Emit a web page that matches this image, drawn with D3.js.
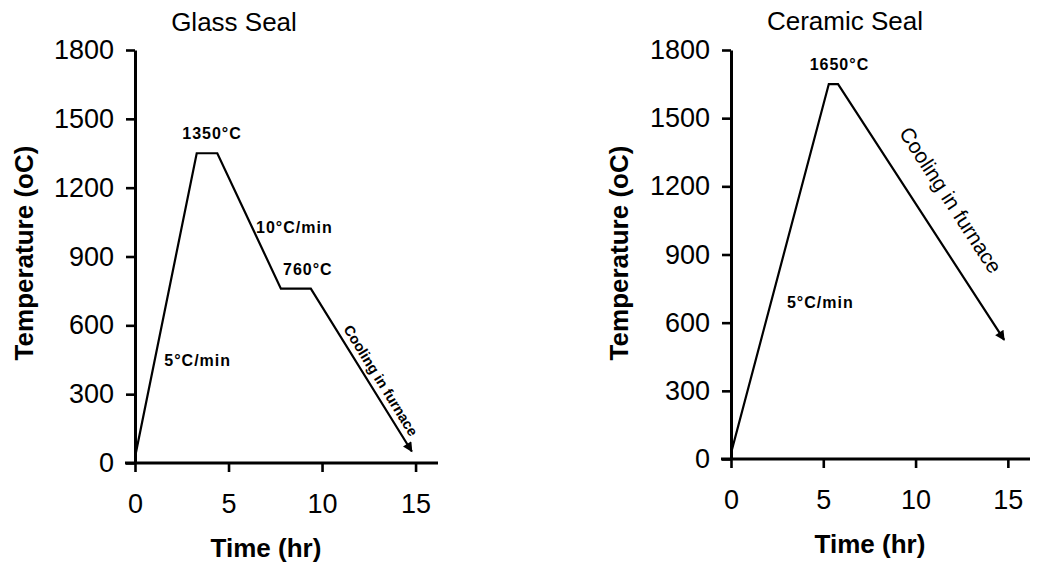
<!DOCTYPE html>
<html>
<head>
<meta charset="utf-8">
<script src="https://cdn.jsdelivr.net/npm/d3@7"></script>
<style>
  html, body { margin: 0; padding: 0; background: #fff; }
  svg { display: block; font-family: "Liberation Sans", Arial, Helvetica, sans-serif; }
</style>
</head>
<body>
<script>
// Firing schedules for the two seal types
const panelTitles = ["Glass Seal", "Ceramic Seal"];
const xTicks = [0, 5, 10, 15];
const yTicks = [0, 300, 600, 900, 1200, 1500, 1800];

// Glass seal: heat, dwell at 1350 °C, cool to 760 °C, dwell, furnace cool
const glassTime = [0, 3.3, 4.4, 7.8, 9.4, 14.8];
const glassTemp = [25, 1350, 1350, 760, 760, 50];

// Ceramic seal: heat, dwell at 1650 °C, furnace cool
const ceramicTime = [0, 5.3, 5.8, 14.8];
const ceramicTemp = [25, 1650, 1650, 524];

// Dwell labels (index of the first point of each dwell)
const glassDwells = [{ i: 1, text: "1350°C", dx: 5 }, { i: 3, text: "760°C", dx: 12 }];
const ceramicDwells = [{ i: 1, text: "1650°C", dx: 6 }];

// Rate labels, anchored in time / temperature space
const glassRates = [{ t: 3.35, T: 423, text: "5°C/min" }, { t: 8.52, T: 1003, text: "10°C/min" }];
const ceramicRates = [{ t: 4.84, T: 665, text: "5°C/min" }];

const coolingText = "Cooling in furnace";

const W = 1037, H = 568;
const svg = d3.select("body").append("svg").attr("width", W).attr("height", H);

svg.append("defs").append("marker")
  .attr("id", "arrow")
  .attr("viewBox", "0 0 10 10")
  .attr("refX", 9).attr("refY", 5)
  .attr("markerWidth", 5).attr("markerHeight", 4.5)
  .attr("markerUnits", "strokeWidth")
  .attr("orient", "auto")
  .append("path").attr("d", "M0,0 L10,5 L0,10 Z").attr("fill", "#000");

const panels = [
  {
    title: panelTitles[0], time: glassTime, temp: glassTemp, dwells: glassDwells, rates: glassRates,
    xRange: [135, 438], yRange: [463, 50],
    titleX: 234, titleY: 31, yLabX: 33, xLabX: 266, xLabY: 557,
    cool: { frac: 0.6, off: 6, size: 14.5, weight: "bold" }
  },
  {
    title: panelTitles[1], time: ceramicTime, temp: ceramicTemp, dwells: ceramicDwells, rates: ceramicRates,
    xRange: [731, 1030], yRange: [459, 50],
    titleX: 845, titleY: 30, yLabX: 628, xLabX: 870, xLabY: 553,
    cool: { frac: 0.52, off: 24, size: 21, weight: "normal" }
  }
];

panels.forEach(p => {
  const x = d3.scaleLinear().domain([0, 16.2]).range(p.xRange);
  const y = d3.scaleLinear().domain([0, 1800]).range(p.yRange);
  const g = svg.append("g");

  // Axes
  const yAxis = d3.axisLeft(y).tickValues(yTicks).tickFormat(d3.format("d"))
    .tickSize(9).tickSizeOuter(0).tickPadding(12);
  const xAxis = d3.axisBottom(x).tickValues(xTicks).tickFormat(d3.format("d"))
    .tickSize(9).tickSizeOuter(0).tickPadding(22);

  const gx = g.append("g").attr("transform", `translate(0,${y(0)})`).call(xAxis);
  const gy = g.append("g").attr("transform", `translate(${x(0)},0)`).call(yAxis);
  [gx, gy].forEach(a => {
    a.select(".domain").attr("stroke", "#000").attr("stroke-width", 3);
    a.selectAll(".tick line").attr("stroke", "#000").attr("stroke-width", 2.6);
    a.selectAll(".tick text").attr("fill", "#000").attr("font-size", 27)
      .attr("font-family", "'Liberation Sans', Arial, sans-serif");
  });
  // extend the time axis a little past the temperature axis, as drawn
  gx.select(".domain").attr("d", `M${x(0) - 10},0H${p.xRange[1]}`);

  // Title and axis labels
  g.append("text").attr("x", p.titleX).attr("y", p.titleY).attr("text-anchor", "middle")
    .attr("font-size", 26).attr("fill", "#000").text(p.title);
  g.append("text").attr("transform", `translate(${p.yLabX},253) rotate(-90)`)
    .attr("text-anchor", "middle").attr("font-size", 26).attr("font-weight", "bold")
    .attr("fill", "#000").text("Temperature (oC)");
  g.append("text").attr("x", p.xLabX).attr("y", p.xLabY).attr("text-anchor", "middle")
    .attr("font-size", 26).attr("font-weight", "bold").attr("fill", "#000").text("Time (hr)");

  // Temperature profile
  const pts = p.time.map((t, i) => [t, p.temp[i]]);
  const line = d3.line().x(d => x(d[0])).y(d => y(d[1]));
  g.append("path").datum(pts).attr("d", line)
    .attr("fill", "none").attr("stroke", "#000").attr("stroke-width", 2.2)
    .attr("stroke-linejoin", "miter").attr("marker-end", "url(#arrow)");

  // Dwell temperature labels
  p.dwells.forEach(d => {
    const cx = (x(p.time[d.i]) + x(p.time[d.i + 1])) / 2 + d.dx;
    g.append("text").attr("x", cx).attr("y", y(p.temp[d.i]) - 14)
      .attr("text-anchor", "middle").attr("font-size", 16).attr("font-weight", "bold")
      .attr("letter-spacing", 1).attr("fill", "#000").text(d.text);
  });

  // Rate labels
  p.rates.forEach(r => {
    g.append("text").attr("x", x(r.t)).attr("y", y(r.T))
      .attr("text-anchor", "middle").attr("font-size", 16).attr("font-weight", "bold")
      .attr("letter-spacing", 1).attr("fill", "#000").text(r.text);
  });

  // Furnace-cooling label along the last segment
  const n = pts.length;
  const x1 = x(pts[n - 2][0]), y1 = y(pts[n - 2][1]);
  const x2 = x(pts[n - 1][0]), y2 = y(pts[n - 1][1]);
  const ang = Math.atan2(y2 - y1, x2 - x1);
  const nx = Math.sin(ang), ny = -Math.cos(ang);
  const px = x1 + p.cool.frac * (x2 - x1) + nx * p.cool.off;
  const py = y1 + p.cool.frac * (y2 - y1) + ny * p.cool.off;
  g.append("text")
    .attr("transform", `translate(${px},${py}) rotate(${ang * 180 / Math.PI})`)
    .attr("text-anchor", "middle").attr("font-size", p.cool.size).attr("font-weight", p.cool.weight)
    .attr("fill", "#000").text(coolingText);
});
</script>
</body>
</html>
